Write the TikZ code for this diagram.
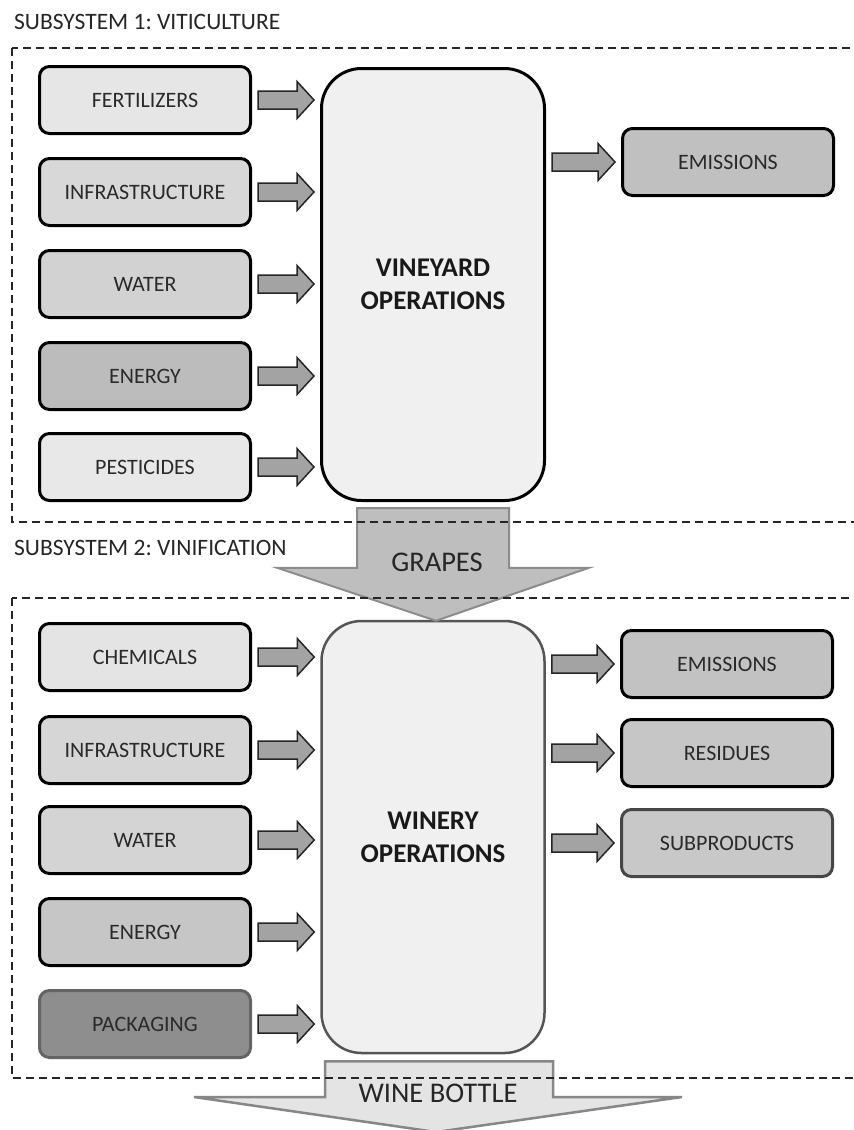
\documentclass[tikz,border=0pt]{standalone}
\usepackage{fontspec}
\setmainfont{Carlito}
\usetikzlibrary{calc}
\frenchspacing
\definecolor{txt}{HTML}{2A2A2A}
\tikzset{
  smallbox/.style={draw=black, line width=3pt, rounded corners=10pt, minimum width=211pt, minimum height=67pt, inner sep=0pt, text=txt, font=\fontsize{22}{26}\selectfont},
  bigbox/.style={draw=black, line width=3pt, rounded corners=40pt, fill=bigfill, minimum width=223pt, inner sep=0pt, align=center, text=black!90, font=\fontsize{27}{33}\selectfont\bfseries},
  smallarrow/.style={draw=black!85, line width=1.5pt, fill=arrowfill, line join=miter},
  dashbox/.style={draw=black!85, line width=2pt, dash pattern=on 8pt off 5pt},
  title/.style={anchor=west, inner sep=0pt, text=black!85, font=\fontsize{23.5}{27}\selectfont},
  bigarrowlabel/.style={inner sep=0pt, text=black!85, font=\fontsize{28.5}{33}\selectfont}
}
\definecolor{bigfill}{HTML}{F0F0F0}
\definecolor{arrowfill}{HTML}{A3A3A3}
\newcommand{\barrow}[3]{%
  \draw[smallarrow] let \p1=(#1.east), \p2=(#2.west), \p3=(#3.center) in
    (\x1+6pt,\y3+9pt) -- (\x2-23pt,\y3+9pt) -- (\x2-23pt,\y3+18.5pt) -- (\x2-6pt,\y3)
    -- (\x2-23pt,\y3-18.5pt) -- (\x2-23pt,\y3-9pt) -- (\x1+6pt,\y3-9pt) -- cycle;}
\begin{document}
\begin{tikzpicture}[x=1pt,y=-1pt]
\useasboundingbox (0,0) rectangle (854,1130);
\clip (0,0) rectangle (854,1130);
\fill[white] (0,0) rectangle (854,1130);

% subsystem 1
\node[title] (t1) at (14,22) {SUBSYSTEM 1: VITICULTURE};
\node[smallbox, fill={rgb,255:red,230;green,230;blue,230}] (fert) at (145,100) {FERTILIZERS};
\node[smallbox, fill={rgb,255:red,216;green,216;blue,216}] (infra1) at (145,192) {INFRASTRUCTURE};
\node[smallbox, fill={rgb,255:red,210;green,210;blue,210}] (water1) at (145,284) {WATER};
\node[smallbox, fill={rgb,255:red,188;green,188;blue,188}] (energy1) at (145,376) {ENERGY};
\node[smallbox, fill={rgb,255:red,232;green,232;blue,232}] (pest) at (145,467) {PESTICIDES};
\node[bigbox, minimum height=432pt] (vine) at (433,284.5) {VINEYARD\\OPERATIONS};
\node[smallbox, fill={rgb,255:red,192;green,192;blue,192}] (emis1) at (728,162) {EMISSIONS};
\barrow{fert}{vine}{fert}
\barrow{infra1}{vine}{infra1}
\barrow{water1}{vine}{water1}
\barrow{energy1}{vine}{energy1}
\barrow{pest}{vine}{pest}
\barrow{vine}{emis1}{emis1}

% subsystem 2
\node[title] (t2) at (14,548) {SUBSYSTEM 2: VINIFICATION};
\node[smallbox, fill={rgb,255:red,228;green,228;blue,228}] (chem) at (145,657) {CHEMICALS};
\node[smallbox, fill={rgb,255:red,214;green,214;blue,214}] (infra2) at (145,750) {INFRASTRUCTURE};
\node[smallbox, fill={rgb,255:red,212;green,212;blue,212}] (water2) at (145,840) {WATER};
\node[smallbox, fill={rgb,255:red,198;green,198;blue,198}] (energy2) at (145,932) {ENERGY};
\node[smallbox, draw={rgb,255:red,100;green,100;blue,100}, fill={rgb,255:red,142;green,142;blue,142}] (pack) at (145,1024) {PACKAGING};
\node[bigbox, draw={rgb,255:red,85;green,85;blue,85}, line width=2.5pt, minimum height=432pt] (winery) at (433,837) {WINERY\\OPERATIONS};
\node[smallbox, fill={rgb,255:red,194;green,194;blue,194}] (emis2) at (727,664) {EMISSIONS};
\node[smallbox, fill={rgb,255:red,198;green,198;blue,198}] (resid) at (727,753) {RESIDUES};
\node[smallbox, draw={rgb,255:red,70;green,70;blue,70}, fill={rgb,255:red,200;green,200;blue,200}] (subp) at (727,843) {SUBPRODUCTS};
\barrow{chem}{winery}{chem}
\barrow{infra2}{winery}{infra2}
\barrow{water2}{winery}{water2}
\barrow{energy2}{winery}{energy2}
\barrow{pack}{winery}{pack}
\barrow{winery}{emis2}{emis2}
\barrow{winery}{resid}{resid}
\barrow{winery}{subp}{subp}

% big arrows
\draw[draw={rgb,255:red,140;green,140;blue,140}, line width=2pt, fill={rgb,255:red,190;green,190;blue,190}]
  let \p1=(vine.south), \p2=(winery.north) in
  (\x1-76pt,\y1-6pt) -- (\x1+76pt,\y1-6pt) -- (\x1+76pt,\y2+52pt) -- (\x1+156pt,\y2+52pt)
  -- (\x1+3pt,\y2-1pt) -- (\x1-156pt,\y2+52pt) -- (\x1-76pt,\y2+52pt) -- cycle;
\node[bigarrowlabel] (grapes) at (437,562) {GRAPES};

\coordinate (bottletip) at (436,1132);
\draw[draw={rgb,255:red,135;green,135;blue,135}, line width=2.5pt, fill={rgb,255:red,228;green,228;blue,228}]
  let \p1=(winery.south), \p2=(bottletip) in
  (\x2-111pt,\y1-7pt) -- (\x2+117pt,\y1-7pt) -- (\x2+117pt,\y2+35pt) -- (\x2+246pt,\y2+35pt)
  -- (\x2,\y2) -- (\x2-242pt,\y2+35pt) -- (\x2-111pt,\y2+35pt) -- cycle;
\node[bigarrowlabel] (bottle) at (438,1093) {WINE BOTTLE};

% dashed subsystem frames
\draw[dashbox] (12,48) rectangle (880,522);
\draw[dashbox] (12,598) rectangle (880,1078);
\end{tikzpicture}
\end{document}
